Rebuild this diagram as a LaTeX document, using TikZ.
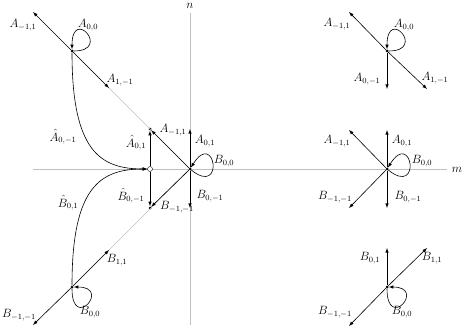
\documentclass[tikz,border=0pt]{standalone}
\usepackage{amsmath,amssymb}
\usetikzlibrary{arrows}
\tikzset{
  pt/.style    = {circle, fill, inner sep=0pt, minimum size=3pt},
  hub/.style   = {circle, draw, fill=white, inner sep=0pt, minimum size=5pt},
  axis/.style  = {draw=black!25, line width=0.9pt},
  guide/.style = {draw=black!25, line width=0.6pt},
  move/.style  = {draw, line width=0.6pt, -latex},
  lbl/.style   = {font=\large, inner sep=1pt}
}

\begin{document}
\begin{tikzpicture}[x=1pt, y=-1pt]
	\useasboundingbox (0,0) rectangle (463,329);
	% axes
	\coordinate (mW) at (33,169);
	\coordinate (mE) at (447,169);
	\coordinate (nN) at (190,13);
	\coordinate (nS) at (190,325);
	\draw[axis] (mW) -- (mE);
	\draw[axis] (nN) -- (nS);
	\node[lbl, inner sep=0pt] (nlab) at (190,6) {$n$};
	\node[lbl] (mlab) at (457,170) {$m$};

	% left walk
	\node[pt]  (o)  at (190,169) {};
	\node[hub] (h)  at (150,169) {};
	\node[pt]  (a)  at (150,129) {};
	\node[pt]  (b)  at (150,208) {};
	\node[pt]  (tl) at (72,51) {};
	\node[pt]  (bl) at (72,287) {};
	\coordinate (tlend) at (33,12);
	\coordinate (tlmid) at (109,88);
	\coordinate (blend) at (33,325);
	\coordinate (blmid) at (109,250);
	\coordinate (oN) at (190,129);
	\coordinate (oS) at (190,208);

	\draw[guide] (tl) -- (o);
	\draw[guide] (bl) -- (o);
	\draw[move] (tl) -- (tlend);
	\draw[move] (tl) -- (tlmid);
	\draw[move] (tl) .. controls +(40,0) and +(0,-45) .. (tl);
	\draw[move] (tl) .. controls +(0,100) and +(-50,0) .. (h);
	\draw[move] (bl) -- (blend);
	\draw[move] (bl) -- (blmid);
	\draw[move] (bl) .. controls +(0,45) and +(40,0) .. (bl);
	\draw[move] (bl) .. controls +(0,-100) and +(-50,0) .. (h);
	\draw[move] (h) -- (a);
	\draw[move] (h) -- (b);
	\draw[move] (o) -- (a);
	\draw[move] (o) -- (b);
	\draw[move] (o) -- (oN);
	\draw[move] (o) -- (oS);
	\draw[move] (o) .. controls +(35,28) and +(25,-40) .. (o);

	\node[lbl] (l1) at (23,25)   {$A_{-1,1}$};
	\node[lbl] (l2) at (88,25)   {$A_{0,0}$};
	\node[lbl] (l3) at (120,80)  {$A_{1,-1}$};
	\node[lbl] (l4) at (63,137)  {$\hat{A}_{0,-1}$};
	\node[lbl] (l5) at (136,143) {$\hat{A}_{0,1}$};
	\node[lbl] (l6) at (173,130) {$A_{-1,1}$};
	\node[lbl] (l7) at (205,141) {$A_{0,1}$};
	\node[lbl] (l8) at (224,161) {$B_{0,0}$};
	\node[lbl] (l9) at (68,203)  {$\hat{B}_{0,1}$};
	\node[lbl] (l10) at (131,196) {$\hat{B}_{0,-1}$};
	\node[lbl] (l11) at (177,207) {$B_{-1,-1}$};
	\node[lbl] (l12) at (210,196) {$B_{0,-1}$};
	\node[lbl] (l13) at (117,260) {$B_{1,1}$};
	\node[lbl] (l14) at (19,315)  {$B_{-1,-1}$};
	\node[lbl] (l15) at (90,312)  {$B_{0,0}$};

	% steps, upper half
	\node[pt] (r1) at (387,51) {};
	\coordinate (r1ul) at (349,12);
	\coordinate (r1dr) at (427,89);
	\coordinate (r1s)  at (387,89);
	\draw[move] (r1) -- (r1ul);
	\draw[move] (r1) -- (r1dr);
	\draw[move] (r1) -- (r1s);
	\draw[move] (r1) .. controls +(40,0) and +(0,-45) .. (r1);
	\node[lbl] (r1l1) at (337,24) {$A_{-1,1}$};
	\node[lbl] (r1l2) at (404,25) {$A_{0,0}$};
	\node[lbl] (r1l3) at (367,79) {$A_{0,-1}$};
	\node[lbl] (r1l4) at (435,78) {$A_{1,-1}$};

	% steps on the axis
	\node[pt] (r2) at (387,169) {};
	\coordinate (r2n)  at (387,130);
	\coordinate (r2s)  at (387,208);
	\coordinate (r2ul) at (349,130);
	\coordinate (r2dl) at (349,208);
	\draw[move] (r2) -- (r2n);
	\draw[move] (r2) -- (r2s);
	\draw[move] (r2) -- (r2ul);
	\draw[move] (r2) -- (r2dl);
	\draw[move] (r2) .. controls +(35,28) and +(25,-40) .. (r2);
	\node[lbl] (r2l1) at (337,141) {$A_{-1,1}$};
	\node[lbl] (r2l2) at (402,141) {$A_{0,1}$};
	\node[lbl] (r2l3) at (422,161) {$B_{0,0}$};
	\node[lbl] (r2l4) at (335,197) {$B_{-1,-1}$};
	\node[lbl] (r2l5) at (408,197) {$B_{0,-1}$};

	% steps, lower half
	\node[pt] (r3) at (387,287) {};
	\coordinate (r3n)  at (387,248);
	\coordinate (r3ur) at (427,248);
	\coordinate (r3dl) at (349,326);
	\draw[move] (r3) -- (r3n);
	\draw[move] (r3) -- (r3ur);
	\draw[move] (r3) -- (r3dl);
	\draw[move] (r3) .. controls +(0,45) and +(40,0) .. (r3);
	\node[lbl] (r3l1) at (370,258) {$B_{0,1}$};
	\node[lbl] (r3l2) at (432,258) {$B_{1,1}$};
	\node[lbl] (r3l3) at (335,312) {$B_{-1,-1}$};
	\node[lbl] (r3l4) at (402,312) {$B_{0,0}$};
\end{tikzpicture}
\end{document}
